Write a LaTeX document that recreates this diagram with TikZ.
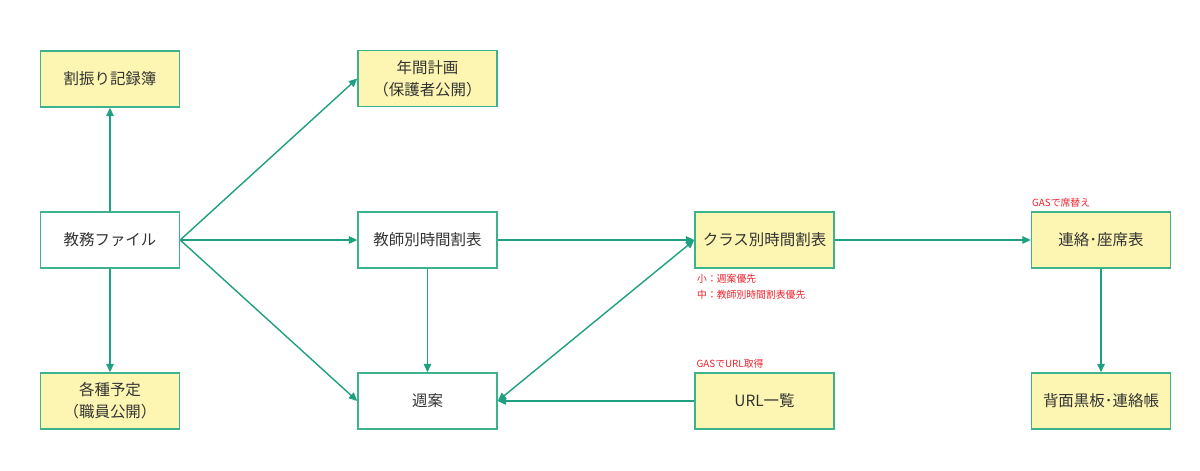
\documentclass[tikz,border=0pt]{standalone}
\usepackage{fontspec}
\setmainfont{Noto Sans CJK JP}
\usetikzlibrary{arrows.meta}

\definecolor{flowgreen}{HTML}{1FA080}
\definecolor{boxline}{HTML}{3CB38A}
\definecolor{boxfill}{HTML}{FDF6B2}
\definecolor{notered}{HTML}{F0202A}
\definecolor{boxtext}{HTML}{333333}

\begin{document}
\begin{tikzpicture}[
	>={Triangle[length=1.7mm,width=1.5mm]},
	box/.style={draw=boxline, line width=0.8pt, minimum width=2.78cm, minimum height=1.12cm,
		align=center, inner sep=0pt, text=boxtext, font=\fontsize{8.8}{12.5}\selectfont},
	ybox/.style={box, fill=boxfill},
	wbox/.style={box, fill=white},
	note/.style={text=notered, inner sep=0pt, align=left, font=\fontsize{5.6}{9}\selectfont},
	every edge/.style={draw=flowgreen, line width=0.8pt, ->}
]
	\useasboundingbox (0,0) rectangle (24,9.42);

	\node[ybox] (wari) at (2.2,7.84) {割振り記録簿};
	\node[ybox] (nenkan) at (8.55,7.85) {年間計画\\（保護者公開）};
	\node[wbox] (kyomu) at (2.2,4.62) {教務ファイル};
	\node[wbox] (kyoshi) at (8.55,4.62) {教師別時間割表};
	\node[ybox] (class) at (15.29,4.62) {クラス別時間割表};
	\node[ybox] (renraku) at (22.02,4.62) {連絡･座席表};
	\node[ybox] (kakushu) at (2.2,1.40) {各種予定\\（職員公開）};
	\node[wbox] (shuan) at (8.55,1.40) {週案};
	\node[ybox] (url) at (15.29,1.40) {URL一覧};
	\node[ybox] (haimen) at (22.02,1.40) {背面黒板･連絡帳};

	% red notes
	\node[note, anchor=south west] (gasseki) at ([xshift=0.02cm,yshift=0.07cm]renraku.north west) {GASで席替え};
	\node[note, anchor=north west] (yusen) at ([xshift=0.05cm,yshift=-0.1cm]class.south west) {小：週案優先\\中：教師別時間割表優先};
	\node[note, anchor=south west] (gasurl) at ([xshift=0.04cm,yshift=0.07cm]url.north west) {GASでURL取得};

	\draw (kyomu) edge (wari)
	      (kyomu) edge (kakushu)
	      (kyomu.east) edge (nenkan.west)
	      (kyomu.east) edge (kyoshi.west)
	      (kyomu.east) edge (shuan.west)
	      (kyoshi) edge (class)
	      (kyoshi) edge (shuan)
	      (shuan.east) edge[<->] (class.west)
	      (url) edge (shuan)
	      (class) edge (renraku)
	      (renraku) edge (haimen);
\end{tikzpicture}
\end{document}
